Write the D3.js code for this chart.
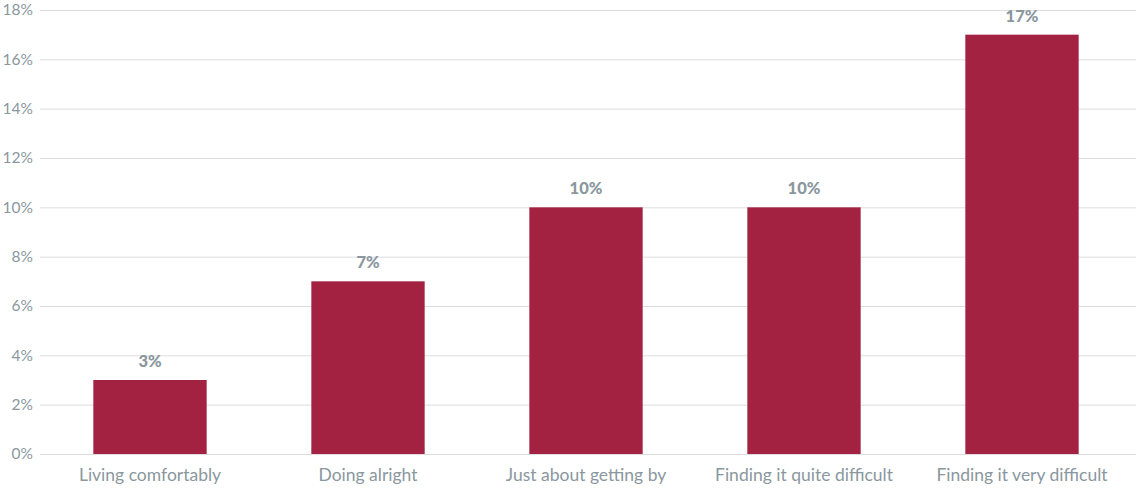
<!DOCTYPE html>
<html><head><meta charset="utf-8">
<script src="https://cdn.jsdelivr.net/npm/d3@7"></script>
<style>body{margin:0;background:#fff;} svg{display:block;}</style>
</head><body>
<svg id="c" width="1136" height="488"></svg>
<script>
const categories = ["Living comfortably","Doing alright","Just about getting by","Finding it quite difficult","Finding it very difficult"];
const values = [3, 7, 10, 10, 17];
const valueLabels = ["3%","7%","10%","10%","17%"];
const yTicks = [0,2,4,6,8,10,12,14,16,18];

const svg = d3.select("#c");
const x = d3.scaleBand().domain(categories).range([41, 1131]).paddingInner(0.48).paddingOuter(0.24);
const y = d3.scaleLinear().domain([0, 18]).range([454, 10]);

const grey = "#8a979e";
const gy = svg.append("g").attr("transform","translate(40,0)")
  .call(d3.axisLeft(y).tickValues(yTicks).tickFormat(d => d + "%").tickSize(-1096).tickPadding(7));
gy.select(".domain").remove();
gy.selectAll(".tick line").attr("stroke","#dddddd").attr("stroke-width",1);
gy.selectAll(".tick text").attr("fill",grey).attr("font-family","Lato, sans-serif").attr("font-size",15.5);

svg.append("g").selectAll("rect").data(values).join("rect")
  .attr("x",(d,i)=>x(categories[i])).attr("width",x.bandwidth())
  .attr("y",d=>y(d)).attr("height",d=>y(0)-y(d)).attr("fill","#a32241");

svg.append("g").selectAll("text").data(values).join("text")
  .attr("x",(d,i)=>x(categories[i])+x.bandwidth()/2).attr("y",d=>y(d)-13)
  .attr("text-anchor","middle").attr("fill",grey).attr("font-family","Lato, sans-serif")
  .attr("font-weight","900").attr("font-size",16.5).text((d,i)=>valueLabels[i]);

const gx = svg.append("g").attr("transform","translate(0,454)")
  .call(d3.axisBottom(x).tickSize(0).tickPadding(15));
gx.select(".domain").remove();
gx.selectAll(".tick text").attr("fill",grey).attr("font-family","Lato, sans-serif").attr("font-size",17.5);
</script>
</body></html>
